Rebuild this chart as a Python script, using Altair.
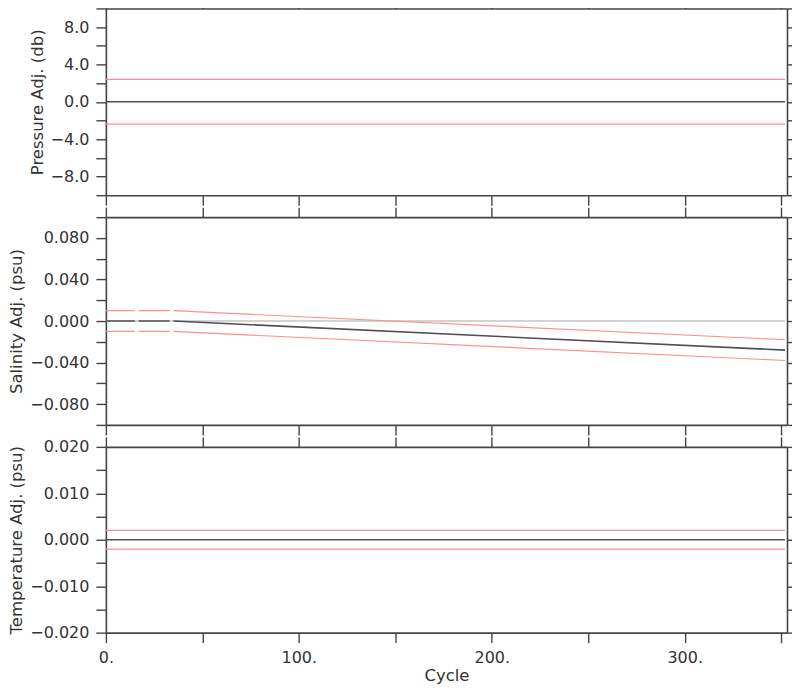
import altair as alt
import pandas as pd

# ---------------- data ----------------
x_ticks = [0, 50, 100, 150, 200, 250, 300, 350]

pres_segment = [1, 1]
pres_cycle = [0, 352]
pres_adj = [0.0, 0.0]
pres_err = [2.4, 2.4]
pres_ticks = [-10, -8, -6, -4, -2, 0, 2, 4, 6, 8, 10]

sal_segment = [1, 1, 2, 2, 3, 3]
sal_cycle = [0, 15, 17, 33, 35, 352]
sal_adj = [0.0, 0.0, 0.0, 0.0, 0.0, -0.028]
sal_err = [0.01, 0.01, 0.01, 0.01, 0.01, 0.01]
sal_ticks = [-0.1, -0.08, -0.06, -0.04, -0.02, 0.0, 0.02, 0.04, 0.06, 0.08, 0.1]
sal_ref_cycle = [0, 352]
sal_ref_value = [0.0, 0.0]

temp_segment = [1, 1]
temp_cycle = [0, 352]
temp_adj = [0.0, 0.0]
temp_err = [0.002, 0.002]
temp_ticks = [-0.02, -0.015, -0.01, -0.005, 0.0, 0.005, 0.01, 0.015, 0.02]

X_MAX = 353
AX = "#444444"
FONT = "DejaVu Sans"


def make_df(seg, cyc, adj, err):
    rows = []
    for s, c, a, e in zip(seg, cyc, adj, err):
        rows.append({"cycle": c, "value": a, "series": "adj", "seg": s})
        rows.append({"cycle": c, "value": a + e, "series": "hi", "seg": s})
        rows.append({"cycle": c, "value": a - e, "series": "lo", "seg": s})
    return pd.DataFrame(rows)


def panel(df, ticks, domain, label_expr, title, height, last, ref=None):
    xs = alt.Scale(domain=[0, X_MAX], nice=False, zero=False)
    ys = alt.Scale(domain=domain, nice=False, zero=False)

    x_bottom = alt.X(
        "cycle:Q", scale=xs,
        axis=alt.Axis(
            orient="bottom", values=x_ticks, tickSize=10,
            labels=last, labelFlush=False, labelOverlap=False,
            labelExpr="datum.value % 100 == 0 ? datum.value + '.' : ''",
            labelPadding=7, grid=False,
            title="Cycle" if last else None, titlePadding=2,
        ),
    )
    y_left = alt.Y(
        "value:Q", scale=ys,
        axis=alt.Axis(
            orient="left", values=ticks, tickSize=10, grid=False,
            labelExpr=label_expr, labelOverlap=False, labelFlush=False,
            labelPadding=7, title=title, titlePadding=5,
        ),
    )
    x_top = alt.X(
        "cycle:Q", scale=xs,
        axis=alt.Axis(orient="top", values=x_ticks, tickSize=10,
                      labels=False, title=None, grid=False),
    )
    y_right = alt.Y(
        "value:Q", scale=ys,
        axis=alt.Axis(orient="right", values=ticks, tickSize=5,
                      labels=False, title=None, grid=False),
    )

    base = alt.Chart(df)
    err = base.transform_filter("datum.series != 'adj'").transform_calculate(
        seg_series="datum.series + '_' + datum.seg"
    ).mark_line(color="#ff8f8f", strokeWidth=1.2, clip=True).encode(
        x=x_bottom, y=y_left, detail=alt.Detail("seg_series:N")
    )
    adj = base.transform_filter("datum.series == 'adj'").mark_line(
        color="#505050", strokeWidth=1.6, clip=True
    ).encode(x=x_top, y=y_right, detail="seg:N")

    layers = []
    if ref is not None:
        rdf = pd.DataFrame({"cycle": ref[0], "value": ref[1]})
        layers.append(
            alt.Chart(rdf).mark_line(color="#c4c4c4", strokeWidth=1.6).encode(
                x=alt.X("cycle:Q", scale=xs, axis=None),
                y=alt.Y("value:Q", scale=ys, axis=None),
            )
        )
    layers += [err, adj]
    return alt.layer(*layers).resolve_axis(x="independent", y="independent").properties(
        width=682, height=height
    )


p1 = panel(
    make_df(pres_segment, pres_cycle, pres_adj, pres_err), pres_ticks, [-10, 10],
    "round(datum.value) % 4 == 0 ? format(datum.value, '.1f') : ''",
    "Pressure Adj. (db)", 187, False,
)
p2 = panel(
    make_df(sal_segment, sal_cycle, sal_adj, sal_err), sal_ticks, [-0.1, 0.1],
    "round(datum.value * 1000) % 40 == 0 ? format(datum.value, '.3f') : ''",
    "Salinity Adj. (psu)", 208, False, ref=(sal_ref_cycle, sal_ref_value),
)
p3 = panel(
    make_df(temp_segment, temp_cycle, temp_adj, temp_err), temp_ticks, [-0.02, 0.02],
    "round(datum.value * 1000) % 10 == 0 ? format(datum.value, '.3f') : ''",
    "Temperature Adj. (psu)", 186, True,
)

chart = alt.vconcat(p1, p2, p3, spacing=22, bounds="flush").properties(
    padding={"top": -11, "left": 0, "right": -1, "bottom": 0}
).configure_view(stroke=None).configure_axis(
    labelFont=FONT, titleFont=FONT, labelFontSize=16, titleFontSize=16.5,
    labelColor="#333333", titleColor="#333333", titleFontWeight="normal",
    domainColor=AX, tickColor=AX, domainWidth=1.6, tickWidth=1.4,
)

chart.save("out.html", embed_options={"renderer": "svg", "actions": False})
